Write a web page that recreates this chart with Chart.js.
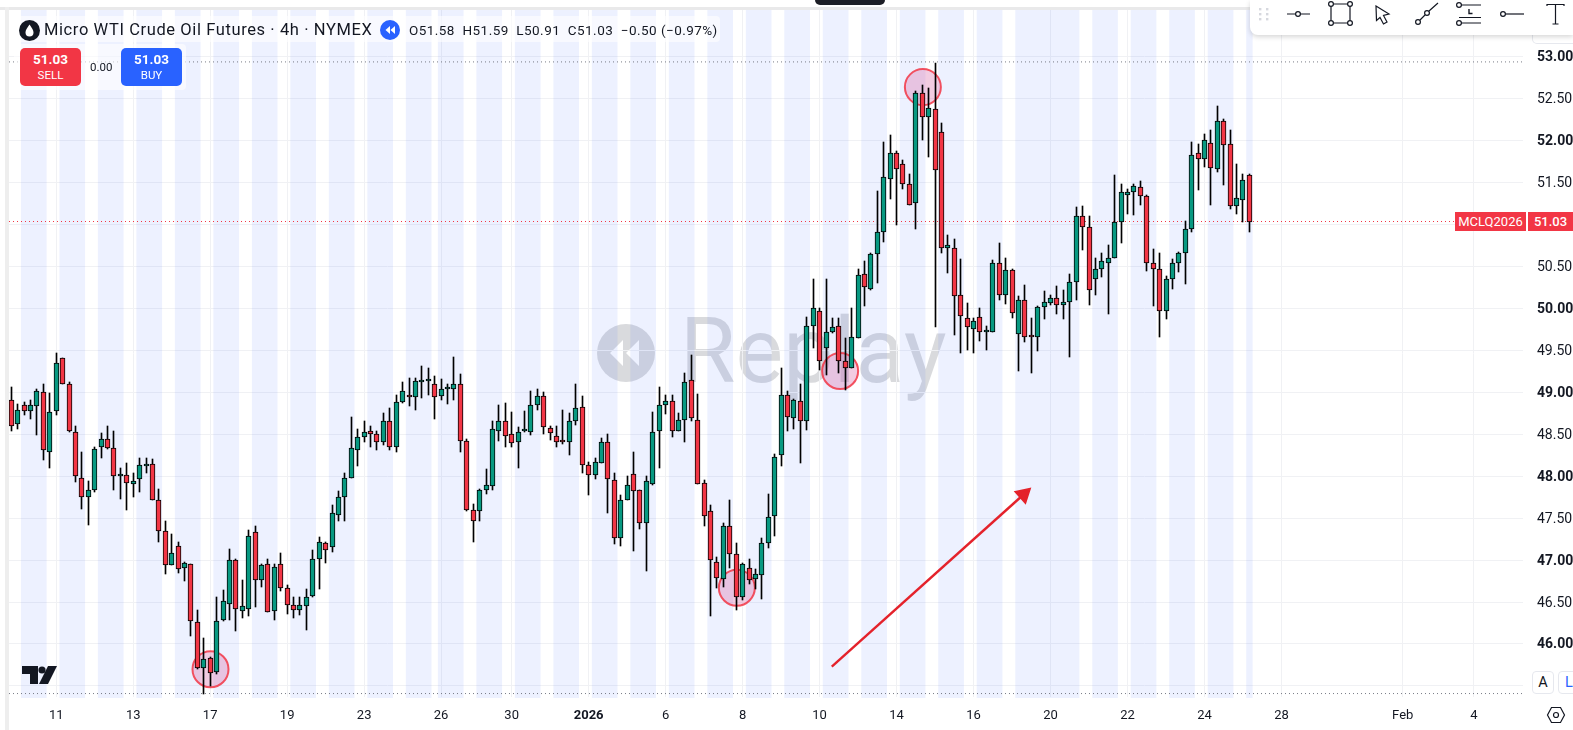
<!DOCTYPE html>
<html>
<head>
<meta charset="utf-8">
<title>Micro WTI Crude Oil Futures</title>
<script src="https://cdn.jsdelivr.net/npm/chart.js@4"></script>
<style>
  html, body { margin: 0; padding: 0; background: #fff; overflow: hidden; width: 1573px; height: 730px; font-family: Roboto, sans-serif; color: #131722; }
  #chart { position: absolute; left: 0; top: 0; z-index: 1; }
  .abs { position: absolute; white-space: nowrap; z-index: 2; }
  #strip-top { left: 0; top: 7px; width: 1573px; height: 3px; background: #e9e9ea; z-index: 0; }
  #strip-left { left: 5px; top: 7px; width: 4px; height: 723px; background: #eeeeee; z-index: 0; }
  #notch { left: 815px; top: 0; width: 70px; height: 5px; background: #1c1e26; border-radius: 0 0 6px 6px; }
  #replay-icon { left: 597px; top: 324px; width: 58px; height: 58px; z-index: 0; }
  #replay-text { left: 680px; top: 299px; font-size: 90px; line-height: 106px; color: rgba(120,123,134,0.28); z-index: 0; }
  .veil { background: rgba(255,255,255,0.6); border-radius: 4px; }
  #title { left: 44px; top: 20px; font-size: 16.5px; line-height: 20px; letter-spacing: 0.6px; }
  #ohlc { left: 409px; top: 21px; font-size: 13.5px; line-height: 18px; letter-spacing: 0.45px; }
  .trade { top: 48px; width: 61px; height: 38px; border-radius: 5px; color: #fff; text-align: center; font-size: 11.5px; line-height: 14px; }
  .trade b { display: block; font-size: 13.5px; line-height: 17px; margin-top: 3px; font-weight: 700; }
  #spread { left: 90px; top: 60px; font-size: 11.5px; line-height: 14px; }
  .tag { top: 212px; height: 19px; line-height: 19px; background: #f23645; color: #fff; text-align: center; font-size: 13px; }
  #toolbar { left: 1250px; top: 0; width: 323px; height: 35px; background: #fff; border-radius: 0 0 0 8px; box-shadow: 0 2px 5px rgba(0,0,0,0.16); }
  #scale-box { left: 1532px; top: 30px; width: 41px; height: 13px; border: 1px solid #e6e8ee; border-top: 0; border-radius: 0 0 0 5px; z-index: 1; }
  .mode { top: 671px; height: 21px; border: 1px solid #e6e8ee; border-radius: 4px; background: #fff; text-align: center; font-size: 14.5px; line-height: 21px; }
</style>
</head>
<body>
<div class="abs" id="strip-top"></div>
<div class="abs" id="strip-left"></div>
<div class="abs" id="notch"></div>

<svg class="abs" id="replay-icon" viewBox="0 0 58 58">
  <circle cx="29" cy="29" r="29" fill="rgba(120,123,134,0.28)"/>
  <path d="M26 16 V42 L13 29 Z M42 16 V42 L29 29 Z" fill="#fff"/>
</svg>
<div class="abs" id="replay-text">Replay</div>

<canvas id="chart" width="1573" height="730"></canvas>

<div class="abs veil" style="left:14px;top:16px;width:706px;height:26px"></div>
<div class="abs veil" style="left:14px;top:44px;width:172px;height:46px"></div>

<svg class="abs" style="left:19px;top:20px" width="21" height="21" viewBox="0 0 21 21">
  <circle cx="10.5" cy="10.5" r="10.5" fill="#131722"/>
  <path d="M10.5 4.5 C13 8 14.5 10 14.5 12.5 A4 4 0 0 1 6.5 12.5 C6.5 10 8 8 10.5 4.5 Z" fill="#fff"/>
</svg>
<div class="abs" id="title">Micro WTI Crude Oil Futures · 4h · NYMEX</div>
<svg class="abs" style="left:380px;top:20px" width="20" height="20" viewBox="0 0 20 20">
  <circle cx="10" cy="10" r="10" fill="#2962ff"/>
  <path d="M10 6 V14 L5.5 10 Z M15 6 V14 L10.5 10 Z" fill="#fff"/>
</svg>
<div class="abs" id="ohlc">O51.58&nbsp; H51.59&nbsp; L50.91&nbsp; C51.03&nbsp; −0.50 (−0.97%)</div>

<div class="abs trade" style="left:20px;background:#f23645"><b>51.03</b>SELL</div>
<div class="abs" id="spread">0.00</div>
<div class="abs trade" style="left:121px;background:#2962ff"><b>51.03</b>BUY</div>

<div class="abs tag" style="left:1455px;width:71px">MCLQ2026</div>
<div class="abs tag" style="left:1528px;width:45px;font-weight:500">51.03</div>

<svg class="abs" style="left:22px;top:664px" width="37" height="22" viewBox="0 0 37 22">
  <path d="M0 2 H16 V20 H8 V10 H0 Z M26 2 H35 L26 20 H17 Z" fill="#131722"/>
  <circle cx="20" cy="6" r="3.6" fill="#131722"/>
</svg>

<div class="abs" id="scale-box"></div>
<div class="abs" id="toolbar"></div>
<svg class="abs" style="left:1250px;top:0" width="323" height="35" viewBox="1250 0 323 35" fill="none" stroke="#131722" stroke-width="1.2">
  <g fill="#d6d8de" stroke="none">
    <rect x="1259" y="8" width="2.4" height="2.4"/><rect x="1266" y="8" width="2.4" height="2.4"/>
    <rect x="1259" y="13" width="2.4" height="2.4"/><rect x="1266" y="13" width="2.4" height="2.4"/>
    <rect x="1259" y="18" width="2.4" height="2.4"/><rect x="1266" y="18" width="2.4" height="2.4"/>
  </g>
  <path d="M1287 14 H1295.5 M1300.5 14 H1310"/><circle cx="1298" cy="14" r="2.4"/>
  <path d="M1333.5 4 H1348 M1333.5 23 H1348 M1331 6.5 V20.5 M1350 6.5 V20.5"/>
  <circle cx="1331" cy="4" r="2.4"/><circle cx="1350" cy="4" r="2.4"/><circle cx="1331" cy="23" r="2.4"/><circle cx="1350" cy="23" r="2.4"/>
  <path d="M1376 6 L1389 14 L1383.5 15.5 L1387 22 L1383.5 24 L1380 17.5 L1376.5 20.5 Z"/>
  <path d="M1420 20 L1425 15 M1429 11 L1438 3"/><circle cx="1418" cy="22" r="2.4"/><circle cx="1427" cy="13" r="2.4"/>
  <path d="M1461 5 H1481 M1459 17.5 H1481 M1461 23 H1481"/><circle cx="1459" cy="5" r="2.4"/><circle cx="1459" cy="23" r="2.4"/>
  <path d="M1469 9 V13.5 H1472.5" stroke-width="1.4"/>
  <path d="M1505.5 14 H1524"/><circle cx="1503" cy="14" r="2.4"/>
  <path d="M1547 6 V4.5 H1564 V6 M1555.5 4.5 V24 M1552.5 24 H1558.5"/>
</svg>

<div class="abs mode" style="left:1532px;width:20px">A</div>
<div class="abs mode" style="left:1558px;width:20px;color:#2962ff">L</div>
<svg class="abs" style="left:1546px;top:705px" width="20" height="20" viewBox="0 0 20 20" fill="none" stroke="#131722" stroke-width="1.2">
  <path d="M5.5 2.5 H14.5 L18.5 10 L14.5 17.5 H5.5 L1.5 10 Z"/><circle cx="10" cy="10" r="2.5"/>
</svg>

<script>
// Candles, oldest first
const opens = [
  48.91,48.62,48.84,48.77,48.83,49.00,48.28,48.77,49.40,49.09,
  48.52,47.98,47.75,47.83,48.34,48.44,48.33,48.00,48.01,47.91,
  47.96,48.12,48.14,47.72,47.34,46.94,47.17,46.90,46.95,46.26,
  45.71,45.83,45.67,46.29,46.48,47.00,46.39,46.42,47.33,46.76,
  46.95,46.39,46.95,46.67,46.47,46.40,46.45,46.57,47.01,47.20,
  47.16,47.54,47.75,47.98,48.31,48.46,48.54,48.50,48.40,48.65,
  48.35,48.88,48.97,48.94,49.12,49.13,49.10,48.95,49.04,49.04,
  49.10,48.42,47.59,47.58,47.83,47.88,48.53,48.66,48.50,48.40,
  48.53,48.52,48.84,48.95,48.57,48.48,48.42,48.40,48.65,48.82,
  48.13,48.01,48.16,48.40,47.95,47.26,47.72,48.02,47.83,47.44,
  47.91,48.53,48.84,48.89,48.54,48.67,49.14,48.67,47.92,47.58,
  46.98,46.77,47.41,47.07,46.56,46.90,46.77,46.82,47.20,47.52,
  48.25,48.96,48.69,48.89,48.65,49.78,49.97,49.52,49.72,49.78,
  49.37,49.29,49.64,50.41,50.23,50.64,50.91,51.54,51.85,51.71,
  51.48,51.25,52.56,52.27,52.37,52.09,50.72,50.72,50.16,49.88,
  49.75,49.89,49.72,49.72,50.53,50.16,50.45,49.69,50.09,49.66,
  49.66,50.01,50.06,50.12,50.03,50.07,50.31,51.09,50.96,50.34,
  50.46,50.54,50.60,51.03,51.35,51.38,51.44,51.33,50.54,50.47,
  49.97,50.35,50.53,50.65,50.94,51.85,51.78,51.96,51.66,52.23,
  51.95,51.22,51.29,51.58
];
const closes = [
  48.59,48.79,48.77,48.84,49.01,48.31,48.76,49.35,49.09,48.53,
  48.00,47.75,47.83,48.32,48.44,48.33,48.00,48.01,47.92,47.94,
  48.13,48.14,47.71,47.34,46.94,47.08,46.89,46.97,46.27,45.71,
  45.82,45.66,46.27,46.51,47.00,46.42,46.45,47.28,46.76,46.94,
  46.38,46.92,46.67,46.46,46.40,46.46,46.56,47.01,47.21,47.12,
  47.56,47.75,47.98,48.33,48.47,48.52,48.50,48.40,48.65,48.34,
  48.88,49.01,48.94,49.13,49.14,49.13,48.94,49.04,49.04,49.10,
  48.42,47.59,47.46,47.83,47.89,48.56,48.66,48.48,48.39,48.52,
  48.53,48.85,48.95,48.58,48.51,48.41,48.40,48.66,48.81,48.13,
  48.01,48.17,48.40,47.96,47.26,47.72,47.89,47.82,47.44,47.94,
  48.52,48.84,48.89,48.53,48.67,49.12,48.69,47.90,47.52,47.00,
  46.78,47.41,47.07,46.56,46.95,46.76,46.83,47.20,47.51,48.23,
  48.96,48.70,48.90,48.65,49.79,50.00,49.37,49.72,49.77,49.37,
  49.28,49.65,50.39,50.25,50.64,50.91,51.56,51.85,51.65,51.48,
  51.23,52.56,52.28,52.38,51.64,50.72,50.75,50.14,49.90,49.77,
  49.85,49.72,49.73,50.53,50.15,50.45,49.94,50.09,49.65,49.65,
  50.01,50.07,50.12,50.03,50.07,50.31,51.10,50.96,50.21,50.47,
  50.56,50.60,51.03,51.38,51.38,51.45,51.33,50.54,50.47,49.97,
  50.35,50.53,50.66,50.94,51.82,51.78,52.00,51.67,52.23,51.94,
  51.22,51.31,51.53,51.03
];
const highs = [
  49.06,48.86,48.88,48.90,49.04,49.09,48.99,49.46,49.40,49.12,
  48.60,48.29,47.94,48.34,48.51,48.59,48.54,48.10,48.15,48.04,
  48.21,48.21,48.20,47.84,47.46,47.31,47.22,46.98,46.95,46.40,
  46.07,45.85,46.56,46.64,47.13,47.01,46.76,47.36,47.41,46.95,
  47.01,46.95,47.08,46.70,46.56,46.56,46.66,47.12,47.27,47.22,
  47.65,47.82,48.04,48.70,48.56,48.65,48.59,48.54,48.75,48.81,
  48.96,49.12,49.17,49.17,49.31,49.28,49.19,49.15,49.09,49.42,
  49.21,48.44,47.67,47.85,48.08,48.65,48.84,48.87,48.76,48.58,
  48.77,49.01,49.03,49.00,48.60,48.59,48.79,48.75,49.10,48.95,
  48.17,48.21,48.45,48.50,48.03,47.77,48.00,48.29,47.83,48.00,
  48.76,49.06,48.96,48.96,48.75,49.23,49.44,48.98,47.95,47.66,
  47.03,47.44,47.71,47.20,46.97,47.01,46.89,47.26,47.78,48.26,
  49.29,49.01,48.92,49.09,49.89,50.35,50.00,50.35,49.88,49.88,
  49.64,50.00,50.47,50.56,50.66,51.39,51.98,52.06,51.87,51.76,
  51.60,52.58,52.66,52.62,52.92,52.20,50.87,50.82,50.58,50.06,
  49.88,50.00,49.78,50.57,50.77,50.60,50.46,50.14,50.27,49.88,
  50.02,50.20,50.16,50.26,50.22,50.40,51.20,51.21,51.10,50.59,
  50.65,50.75,51.58,51.48,51.42,51.48,51.51,51.35,50.70,50.65,
  50.38,50.58,50.67,51.04,51.98,51.95,52.07,52.12,52.41,52.25,
  52.12,51.72,51.59,51.59
];
const lows = [
  48.53,48.56,48.73,48.68,48.49,48.19,48.09,48.73,49.09,48.52,
  47.93,47.61,47.42,47.81,48.21,48.32,47.83,47.73,47.59,47.75,
  47.81,48.04,47.71,47.22,46.83,46.94,46.85,46.75,46.10,45.70,
  45.40,45.50,45.64,46.27,46.29,46.15,46.31,46.33,46.44,46.68,
  46.38,46.29,46.63,46.36,46.31,46.35,46.17,46.56,46.65,46.97,
  47.09,47.46,47.47,47.98,48.12,48.41,48.35,48.31,48.37,48.31,
  48.28,48.87,48.83,48.79,48.93,48.97,48.68,48.91,48.86,48.90,
  48.28,47.58,47.22,47.46,47.79,47.83,48.42,48.35,48.35,48.10,
  48.52,48.49,48.79,48.50,48.43,48.34,48.38,48.25,48.61,48.03,
  47.77,47.97,48.16,47.56,47.19,47.17,47.72,47.11,47.37,46.87,
  47.89,48.09,48.74,48.47,48.53,48.40,48.65,47.90,47.40,46.33,
  46.67,46.68,46.91,46.41,46.52,46.72,46.65,46.54,47.14,47.28,
  48.12,48.54,48.56,48.16,48.55,49.52,49.26,49.20,49.70,49.23,
  49.02,49.29,49.64,50.02,50.21,50.30,50.79,51.30,50.99,51.42,
  51.23,50.94,52.00,51.80,49.77,50.65,50.42,49.68,49.46,49.50,
  49.47,49.61,49.50,49.72,50.10,50.05,49.88,49.25,49.60,49.23,
  49.49,49.87,50.04,49.93,49.87,49.42,50.10,50.69,50.04,50.16,
  50.37,49.93,50.60,50.77,51.12,51.11,51.23,50.44,50.02,49.65,
  49.87,50.23,50.43,50.29,50.90,51.41,51.68,51.23,51.62,51.47,
  51.18,51.12,51.02,50.91
];

// Time axis: bar number of each date label
const dateTicks = [7, 19, 31, 43, 55, 67, 78, 90, 102, 114, 126, 138, 150, 162, 174, 186, 198, 216.9, 228];
const dateLabels = ['11', '13', '17', '19', '23', '26', '30', '2026', '6', '8', '10', '14', '16', '20', '22', '24', '28', 'Feb', '4'];

// Price axis
const priceTicks = [45.5, 46, 46.5, 47, 47.5, 48, 48.5, 49, 49.5, 50, 50.5, 51, 51.5, 52, 52.5, 53];
const priceLabels = ['', '46.00', '46.50', '47.00', '47.50', '48.00', '48.50', '49.00', '49.50', '50.00', '50.50', '', '51.50', '52.00', '52.50', '53.00'];

// Session shading, in bar numbers
const sessionStarts = [1.5, 7.5, 13.5, 19.5, 25.5, 31.5, 37.5, 43.5, 49.5, 55.5, 61.5, 66.5, 72.5, 78.5, 84.5, 90.5, 96.5, 102.5, 108.5, 114.5, 120.5, 126.5, 132.5, 138.5, 144.5, 150.5, 156.5, 168.5, 174.5, 180.5, 186.5, 192.5];
const sessionEnds = [5.5, 11.5, 17.5, 23.5, 29.5, 35.5, 41.5, 47.5, 53.5, 59.5, 65.5, 70.5, 76.5, 82.5, 88.5, 94.5, 100.5, 106.5, 112.5, 118.5, 124.5, 130.5, 136.5, 142.5, 148.5, 154.5, 166.5, 172.5, 178.5, 184.5, 190.5, 193.5];

// Dotted price lines
const sessionHigh = 52.93;
const sessionLow = 45.41;
const lastClose = 51.03;

// Drawings on the chart
const circleBars = [31.05, 113.1, 129.2, 142.1];
const circlePrices = [45.70, 46.67, 49.25, 52.63];
const arrowBars = [127.9, 157.8];
const arrowPrices = [45.73, 47.78];

const X_MIN = -0.36;
const X_MAX = 235.65;

const green = '#089981';
const red = '#f23645';

function priceLine(value, color) {
  return {
    type: 'line',
    data: [{ x: X_MIN, y: value }, { x: X_MAX, y: value }],
    borderColor: color,
    borderWidth: 1,
    borderDash: [1, 3],
    pointRadius: 0,
    order: 3
  };
}

// Shaded sessions go behind everything else
const sessionBands = {
  id: 'sessionBands',
  beforeDatasetsDraw(chart) {
    const { ctx, chartArea, scales } = chart;
    ctx.save();
    ctx.fillStyle = 'rgba(41, 98, 255, 0.085)';
    sessionStarts.forEach((start, i) => {
      const left = scales.x.getPixelForValue(start);
      const right = scales.x.getPixelForValue(sessionEnds[i]);
      ctx.fillRect(left, chartArea.top, right - left, chartArea.bottom - chartArea.top + 1);
    });
    ctx.restore();
  }
};

// Snap the candles to whole pixels so wicks and outlines stay crisp
const crispBars = {
  id: 'crispBars',
  beforeDatasetsDraw(chart) {
    chart.getSortedVisibleDatasetMetas().forEach(meta => {
      if (meta.type !== 'bar') return;
      meta.data.forEach(bar => {
        bar.x = Math.floor(bar.x) + 0.5;
        bar.y = Math.round(bar.y);
        bar.base = Math.round(bar.base);
      });
    });
  }
};

const chart = new Chart(document.getElementById('chart').getContext('2d'), {
  data: {
    datasets: [
      {
        type: 'bar',
        data: opens.map((open, i) => ({ x: i, y: [open, closes[i]] })),
        backgroundColor: opens.map((open, i) => closes[i] >= open ? green : red),
        borderColor: '#000',
        borderWidth: 1,
        borderSkipped: false,
        barThickness: 5,
        minBarLength: 2,
        grouped: false,
        order: 1
      },
      {
        type: 'bar',
        data: lows.map((low, i) => ({ x: i, y: [low, highs[i]] })),
        backgroundColor: '#000',
        borderWidth: 0,
        barThickness: 1,
        grouped: false,
        order: 2
      },
      priceLine(sessionHigh, '#787b86'),
      priceLine(sessionLow, '#787b86'),
      priceLine(lastClose, red),
      {
        type: 'scatter',
        data: circleBars.map((bar, i) => ({ x: bar, y: circlePrices[i] })),
        backgroundColor: 'rgba(222, 120, 175, 0.38)',
        borderColor: 'rgba(242, 54, 69, 0.85)',
        borderWidth: 2,
        pointRadius: 18,
        order: 4
      },
      {
        type: 'line',
        data: arrowBars.map((bar, i) => ({ x: bar, y: arrowPrices[i] })),
        borderColor: '#e4222b',
        backgroundColor: '#e4222b',
        borderWidth: 2.4,
        pointStyle: 'triangle',
        pointRadius: [0, 8],
        pointRotation: 48,
        order: 0
      }
    ]
  },
  options: {
    responsive: false,
    animation: false,
    devicePixelRatio: 1,
    layout: { padding: { left: 9, top: 10, right: 0, bottom: 0 } },
    plugins: { legend: { display: false }, tooltip: { enabled: false } },
    events: [],
    scales: {
      x: {
        type: 'linear',
        offset: false,
        min: X_MIN,
        max: X_MAX,
        border: { display: false },
        grid: { color: '#f0f1f4', lineWidth: 1, drawTicks: false, offset: false },
        afterBuildTicks(scale) {
          scale.ticks = dateTicks.map(value => ({ value }));
        },
        afterFit(scale) {
          scale.height = 33;
          scale.paddingLeft = 0;
          scale.paddingRight = 0;
        },
        ticks: {
          autoSkip: false,
          maxRotation: 0,
          padding: 11,
          color: '#131722',
          font: ctx => ({ family: 'Roboto', size: 13, weight: ctx.tick && ctx.tick.value === 90 ? 'bold' : 'normal' }),
          callback: value => dateLabels[dateTicks.indexOf(value)]
        }
      },
      y: {
        position: 'right',
        min: 45.369,
        max: 53.548,
        border: { display: false },
        grid: { color: '#f0f1f4', lineWidth: 1, drawTicks: false },
        afterBuildTicks(scale) {
          scale.ticks = priceTicks.map(value => ({ value }));
        },
        afterFit(scale) {
          scale.width = 50;
          scale.paddingTop = 0;
          scale.paddingBottom = 0;
        },
        ticks: {
          autoSkip: false,
          crossAlign: 'near',
          padding: 14,
          labelOffset: 1,
          color: '#131722',
          font: ctx => ({ family: 'Roboto', size: 14, weight: ctx.tick && Number.isInteger(ctx.tick.value) ? 'bold' : 'normal' }),
          callback: value => priceLabels[priceTicks.indexOf(value)]
        }
      }
    }
  },
  plugins: [sessionBands, crispBars]
});

// The big circles would otherwise make the layout shrink the plot area
chart.data.datasets.forEach((dataset, i) => {
  chart.getDatasetMeta(i).controller.getMaxOverflow = () => 0;
});
chart.update('none');
</script>
</body>
</html>
